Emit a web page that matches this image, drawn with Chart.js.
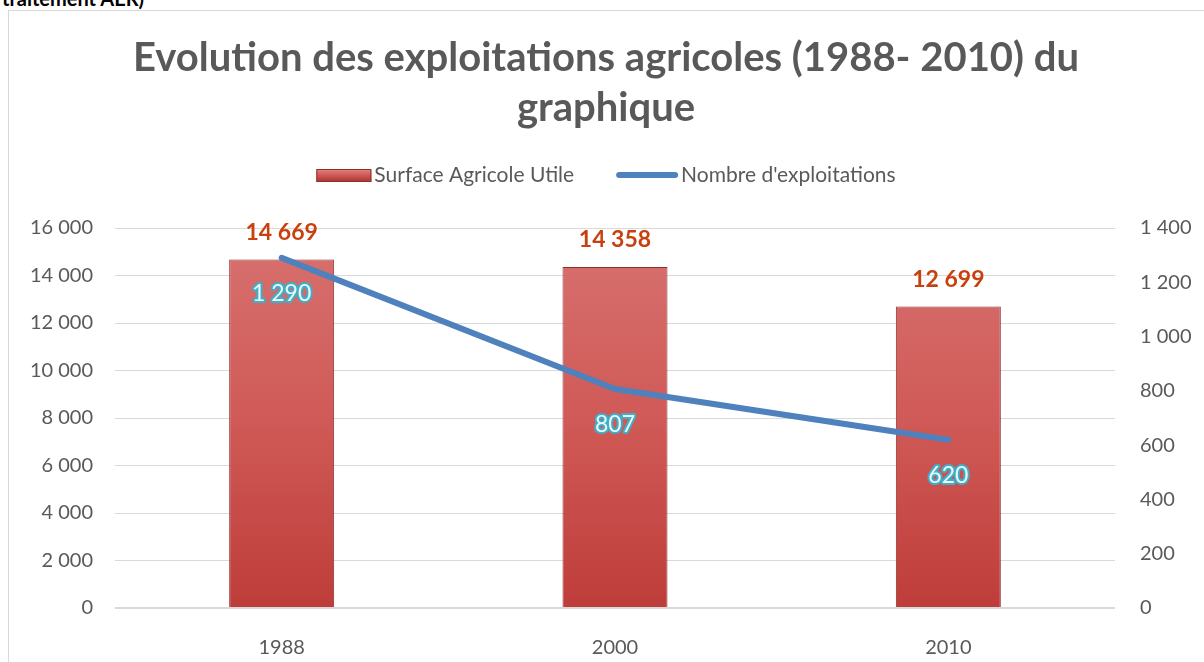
<!DOCTYPE html>
<html>
<head>
<meta charset="utf-8">
<script src="https://cdn.jsdelivr.net/npm/chart.js@4.4.1/dist/chart.umd.min.js"></script>
<style>
  html, body { margin: 0; padding: 0; background: #fff; overflow: hidden; }
  #note { position: absolute; left: 2px; top: -14px; font: bold 20px Lato, sans-serif; color: #000; }
  #frame { position: absolute; left: 8px; top: 10px; width: 1210px; height: 670px; border: 1px solid #D9D9D9; }
  #wrap { position: absolute; left: 0; top: 0; width: 1204px; height: 662px; }
</style>
</head>
<body>
<div id="note">traitement AER)</div>
<div id="frame"></div>
<div id="wrap"><canvas id="chart"></canvas></div>
<script>
const years = ['1988', '2000', '2010'];
const surface = [14669, 14358, 12699];
const exploitations = [1290, 807, 620];
const titleLines = ['Evolution des exploitations agricoles (1988- 2010) du', 'graphique'];
const seriesNames = ['Surface Agricole Utile', "Nombre d'exploitations"];
const leftAxis = { max: 16000, step: 2000 };
const rightAxis = { max: 1400, step: 200 };

const FONT = 'Lato, "Open Sans", sans-serif';
const GREY = '#595959';

function spaced(v) {
    return String(v).replace(/\B(?=(\d{3})+(?!\d))/g, ' ');
}

function barFill(ctx) {
    const area = ctx.chart.chartArea;
    if (!area) return '#CD5552';
    const g = ctx.chart.ctx.createLinearGradient(0, area.top, 0, area.bottom);
    g.addColorStop(0, '#D77270');
    g.addColorStop(0.5, '#D05A57');
    g.addColorStop(1, '#BE3D3A');
    return g;
}

// title, legend and value labels drawn on top of the chart
const decor = {
    id: 'decor',
    afterDraw(chart) {
        const c = chart.ctx;
        const cx = chart.width / 2 + 4;
        c.save();
        c.textAlign = 'center';
        c.textBaseline = 'middle';
        c.fillStyle = GREY;
        c.font = 'bold 40px ' + FONT;
        c.fillText(titleLines[0], cx, 58);
        c.fillText(titleLines[1], cx, 108);

        // legend
        c.font = '21px ' + FONT;
        const w1 = c.measureText(seriesNames[0]).width;
        const w2 = c.measureText(seriesNames[1]).width;
        const total = 55 + 3 + w1 + 42 + 62 + 3 + w2;
        let x = cx - total / 2;
        const ly = 175;
        const g = c.createLinearGradient(0, ly - 7, 0, ly + 7);
        g.addColorStop(0, '#E58D8A');
        g.addColorStop(0.5, '#D05A57');
        g.addColorStop(1, '#A83533');
        c.fillStyle = g;
        c.fillRect(x, ly - 6, 55, 13);
        c.strokeStyle = '#8E2F2D';
        c.lineWidth = 1;
        c.strokeRect(x + 0.5, ly - 5.5, 54, 12);
        x += 58;
        c.textAlign = 'left';
        c.fillStyle = GREY;
        c.fillText(seriesNames[0], x, ly);
        x += w1 + 42;
        c.strokeStyle = '#4F81BD';
        c.lineWidth = 6;
        c.lineCap = 'round';
        c.beginPath();
        c.moveTo(x + 3, ly);
        c.lineTo(x + 59, ly);
        c.stroke();
        x += 65;
        c.fillText(seriesNames[1], x, ly);

        // bar value labels (bars are dataset 1)
        c.textAlign = 'center';
        c.font = 'bold 23px ' + FONT;
        c.fillStyle = '#C8400E';
        chart.getDatasetMeta(1).data.forEach((bar, i) => {
            c.fillText(spaced(surface[i]), bar.x, bar.y - 27);
        });

        // line value labels (line is dataset 0), placed below each point
        c.font = '23px ' + FONT;
        c.lineJoin = 'round';
        chart.getDatasetMeta(0).data.forEach((pt, i) => {
            const txt = spaced(exploitations[i]);
            c.strokeStyle = '#3FAFC8';
            c.lineWidth = 4;
            c.strokeText(txt, pt.x, pt.y + 36);
            c.fillStyle = '#E9FAFD';
            c.fillText(txt, pt.x, pt.y + 36);
        });
        c.restore();
    }
};

const tickFont = { family: FONT, size: 20 };

new Chart(document.getElementById('chart').getContext('2d'), {
    data: {
        labels: years,
        datasets: [
            {
                type: 'line',
                label: seriesNames[1],
                data: exploitations,
                yAxisID: 'y1',
                borderColor: '#4F81BD',
                borderWidth: 6,
                borderCapStyle: 'round',
                borderJoinStyle: 'round',
                pointRadius: 0,
                tension: 0,
                order: 0
            },
            {
                type: 'bar',
                label: seriesNames[0],
                data: surface,
                yAxisID: 'y',
                backgroundColor: barFill,
                borderColor: '#8E2F2D',
                borderWidth: 1,
                categoryPercentage: 1,
                barPercentage: 0.315,
                order: 1
            }
        ]
    },
    options: {
        responsive: true,
        maintainAspectRatio: false,
        animation: false,
        layout: { padding: { top: 228, left: 0, right: 0, bottom: 0 } },
        plugins: {
            legend: { display: false },
            title: { display: false },
            tooltip: { enabled: false }
        },
        scales: {
            x: {
                grid: { display: false },
                border: { display: false },
                ticks: { color: GREY, font: tickFont, padding: 20 },
                afterFit(s) { s.height = 54; }
            },
            y: {
                position: 'left',
                min: 0,
                max: leftAxis.max,
                ticks: { stepSize: leftAxis.step, color: GREY, font: tickFont, padding: 22, callback: v => spaced(v) },
                grid: { color: '#D9D9D9', lineWidth: c => c.tick.value === 0 ? 2 : 1, drawTicks: false },
                border: { display: false },
                afterFit(s) { s.width = 115; }
            },
            y1: {
                position: 'right',
                min: 0,
                max: rightAxis.max,
                ticks: { stepSize: rightAxis.step, color: GREY, font: tickFont, padding: 25, callback: v => spaced(v) },
                grid: { display: false, drawTicks: false },
                border: { display: false },
                afterFit(s) { s.width = 89; }
            }
        }
    },
    plugins: [decor]
});
</script>
</body>
</html>
